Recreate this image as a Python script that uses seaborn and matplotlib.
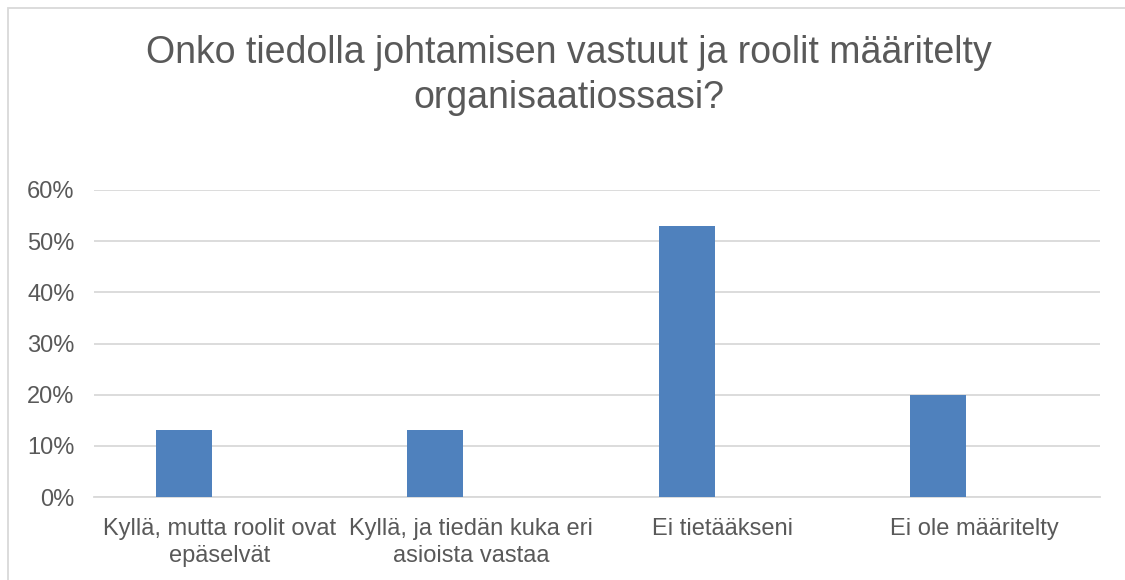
import matplotlib
matplotlib.use("Agg")
import matplotlib.pyplot as plt
from matplotlib.patches import Rectangle
from matplotlib.ticker import PercentFormatter
import pandas as pd
import seaborn as sns

# Survey answers and their shares
categories = [
    "Kyllä, mutta roolit ovat\nepäselvät",
    "Kyllä, ja tiedän kuka eri\nasioista vastaa",
    "Ei tietääkseni",
    "Ei ole määritelty",
]
shares = [0.13, 0.13, 0.53, 0.20]
# second (empty) series keeps the Excel-style clustered slot next to each bar
series = ["Vastaukset", "Tyhjä"]
yticks = [0.0, 0.1, 0.2, 0.3, 0.4, 0.5, 0.6]

title = "Onko tiedolla johtamisen vastuut ja roolit määritelty\norganisaatiossasi?"

text_color = "#595959"
grid_color = "#d9d9d9"
bar_color = "#4f81bd"

sns.set_theme(style="white")
plt.rcParams["font.family"] = ["Liberation Sans", "DejaVu Sans"]

df = pd.DataFrame({
    "kategoria": categories * 2,
    "osuus": shares + [0.0] * len(categories),
    "sarja": [series[0]] * len(categories) + [series[1]] * len(categories),
})

fig = plt.figure(figsize=(11.25, 5.8), dpi=100)
ax = fig.add_axes([94 / 1125, 1 - 497 / 580, (1100 - 94) / 1125, (497 - 190) / 580])

sns.barplot(
    data=df, x="kategoria", y="osuus", hue="sarja", hue_order=series,
    order=categories, palette=[bar_color, bar_color], saturation=1,
    width=0.572, gap=0.22, legend=False, linewidth=0, errorbar=None,
    ax=ax, zorder=3,
)

ax.set_ylim(0, 0.6)
ax.set_yticks(yticks)
ax.yaxis.set_major_formatter(PercentFormatter(1.0, decimals=0))
ax.grid(axis="y", color=grid_color, linewidth=1.3, zorder=0)
ax.set_axisbelow(True)
for side in ["top", "right", "left"]:
    ax.spines[side].set_visible(False)
ax.spines["bottom"].set_color(grid_color)
ax.spines["bottom"].set_linewidth(1.3)
ax.set_xlabel("")
ax.set_ylabel("")
ax.tick_params(axis="both", length=0, labelsize=17, colors=text_color)
ax.tick_params(axis="y", pad=14)
ax.tick_params(axis="x", pad=15)
for lbl in ax.get_xticklabels():
    lbl.set_linespacing(1.3)

fig.text(569 / 1125, 1 - 35 / 580, title, ha="center", va="top",
         fontsize=27, color=text_color, linespacing=1.32)

# chart area frame
fig.patches.append(Rectangle((8 / 1125, -0.1), 1.2, 1 - 8 / 580 + 0.1,
                             transform=fig.transFigure, fill=False,
                             edgecolor=grid_color, linewidth=1.3))

fig.savefig("out.png", dpi=100, facecolor="white")
